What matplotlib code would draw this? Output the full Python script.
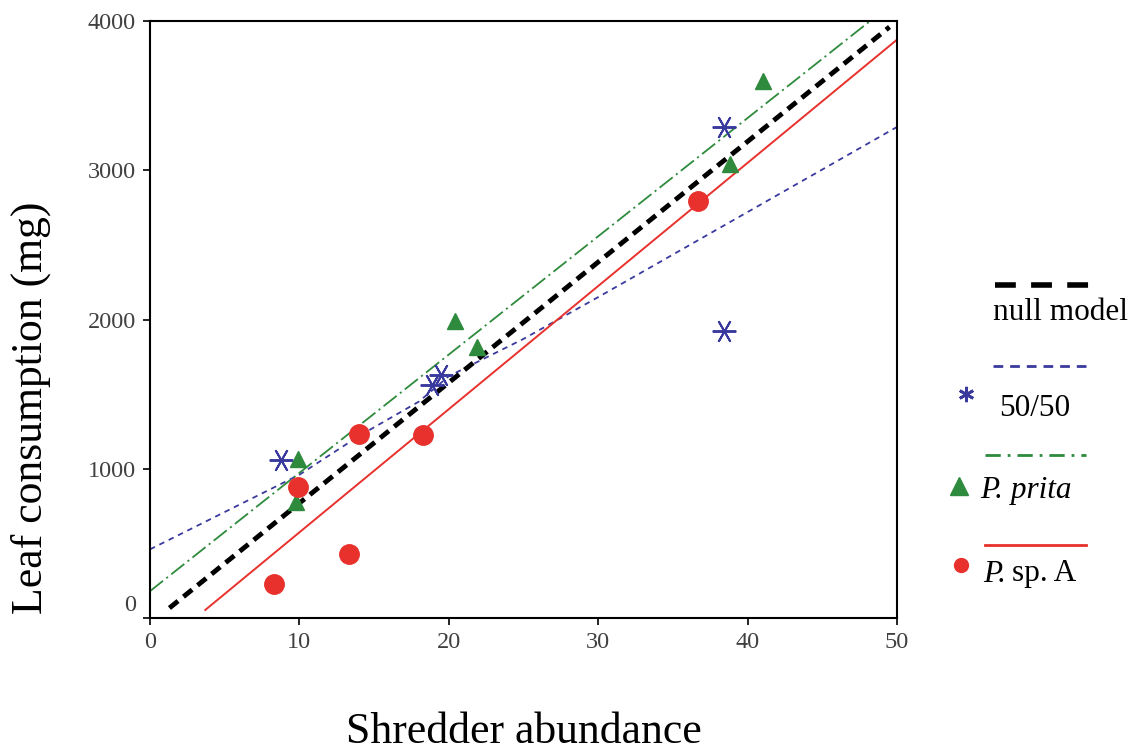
import numpy as np
import matplotlib
matplotlib.use("Agg")
import matplotlib.pyplot as plt
from matplotlib.transforms import ScaledTranslation

plt.rcParams['font.family'] = ['Liberation Serif', 'DejaVu Serif']
plt.rcParams['lines.scale_dashes'] = False

# --- data ---
# P. sp. A (red circles)
spA_x = [8.3, 13.3, 14.0, 9.9, 18.3, 36.7]
spA_y = [230, 430, 1230, 880, 1225, 2795]
# P. prita (green triangles)
prita_x = [9.9, 9.8, 20.4, 21.9, 41.0, 38.8]
prita_y = [1065, 780, 1990, 1815, 3600, 3045]
# 50/50 (blue asterisks)
mix_x = [8.8, 18.9, 19.5, 38.4, 38.4]
mix_y = [1060, 1560, 1625, 3290, 1920]

# fitted lines
null_x = [1.3, 49.5]
null_y = [67, 3960]
spA_fit_x = [3.7, 50]
spA_fit_y = [54, 3875]
prita_fit_x = [0, 48.2]
prita_fit_y = [180, 4000]
mix_fit_x = [0, 5, 10, 14, 18, 20, 22, 25, 30, 40, 50]
mix_fit_y = [460, 710, 960, 1220, 1450, 1620, 1720, 1870, 2150, 2720, 3290]

red = '#e8312c'
green = '#2e8a3c'
blue = '#3a3a9e'

fig = plt.figure(figsize=(11.4, 7.53), dpi=100)
ax = fig.add_axes([150 / 1140, 1 - 618 / 753, (897 - 150) / 1140, (618 - 21) / 753])

ax.plot(mix_fit_x, mix_fit_y, color=blue, lw=1.3, dashes=(4, 3.5))
ax.plot(prita_fit_x, prita_fit_y, color=green, lw=1.3, dashes=(12, 3, 1.5, 3))
ax.plot(spA_fit_x, spA_fit_y, color=red, lw=1.4)
ax.plot(null_x, null_y, color='black', lw=3.5, dashes=(8, 5))

ax.plot(mix_x, mix_y, ls='none', marker=(6, 2, 90), ms=17, mec=blue, mew=1.4)
ax.plot(prita_x, prita_y, ls='none', marker='^', ms=11, color=green)
ax.plot(spA_x, spA_y, ls='none', marker='o', ms=14, color=red)

ax.set_xlim(0, 50)
ax.set_ylim(0, 4000)
ax.set_xticks([0, 10, 20, 30, 40, 50])
ax.set_yticks([0, 1000, 2000, 3000, 4000])
ax.tick_params(direction='out', length=5, width=1.2, labelsize=17.5,
               labelcolor='#404040', pad=5)
for s in ax.spines.values():
    s.set_linewidth(1.5)

# the "0" on the y axis sits a bit above its tick in the original
zero_lab = ax.get_yticklabels()[0]
zero_lab.set_transform(zero_lab.get_transform() +
                       ScaledTranslation(0, 0.15, fig.dpi_scale_trans))

fig.text(31 / 1140, 1 - 408 / 753, 'Leaf consumption (mg)', rotation=90,
         ha='center', va='center', fontsize=31.5)
fig.text(524 / 1140, 1 - 743 / 753, 'Shredder abundance',
         ha='center', va='baseline', fontsize=31.5)

# --- hand made legend to the right ---
lg = fig.add_axes([0, 0, 1, 1])
lg.set_xlim(0, 1140)
lg.set_ylim(753, 0)
lg.axis('off')

fs = 22.5
lg.plot([995, 1093], [285, 285], color='black', lw=4, dashes=(15, 11))
lg.text(993, 312, 'null model', fontsize=fs, va='center', ha='left')

lg.plot([993, 1086], [366, 366], color=blue, lw=2, dashes=(7, 5))
lg.plot([966], [394], ls='none', marker=(6, 2, 0), ms=11, mec=blue, mew=2)
lg.text(999, 408, '50/50', fontsize=fs, va='center', ha='left')

lg.plot([985, 1086], [455, 455], color=green, lw=2, dashes=(11, 5, 2, 5))
lg.plot([959], [486], ls='none', marker='^', ms=13, color=green)
lg.text(980, 490, 'P. prita', fontsize=fs, style='italic', va='center', ha='left')

lg.plot([985, 1086], [545, 545], color=red, lw=2)
lg.plot([961], [565], ls='none', marker='o', ms=10, color=red)
lg.text(983, 574, 'P.', fontsize=fs, style='italic', va='center', ha='left')
lg.text(1012, 574, 'sp. A', fontsize=fs, va='center', ha='left')

fig.savefig('out.png', dpi=100)
